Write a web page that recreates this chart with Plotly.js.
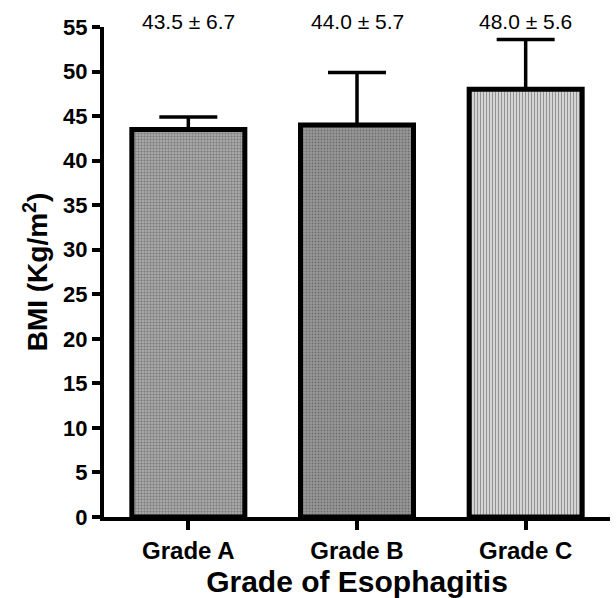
<!DOCTYPE html>
<html><head><meta charset="utf-8">
<script src="https://cdn.plot.ly/plotly-3.0.1.min.js"></script>
<style>body{margin:0;background:#fff}#c{width:616px;height:598px}</style>
</head><body><div id="c"></div>
<script>
const categories = ["Grade A", "Grade B", "Grade C"];
const meanBMI = [43.5, 44.0, 48.0];
const errorUp = [1.4, 5.9, 5.6];
const labels = ["43.5 ± 6.7", "44.0 ± 5.7", "48.0 ± 5.6"];
const yTicks = [0,5,10,15,20,25,30,35,40,45,50,55];

const trace = {
  type: "bar", x: categories, y: meanBMI, width: 0.67,
  marker: {
    color: ["#a6a6a6", "#979797", "#d4d4d4"],
    line: {color: "#000", width: 5},
    pattern: {shape: ["+", ".", "|"], fillmode: "overlay", fgcolor: ["#808080", "#6a6a6a", "#bdbdbd"], size: 3, solidity: 0.3}
  },
  error_y: {type: "data", symmetric: false, array: errorUp, arrayminus: [0,0,0], color: "#000", thickness: 3.5, width: 29},
  hoverinfo: "skip"
};
const font = "Liberation Sans, Arial, sans-serif";
const layout = {
  width: 616, height: 598, showlegend: false,
  margin: {l: 104, r: 6, t: 27, b: 81},
  paper_bgcolor: "#fff", plot_bgcolor: "#fff",
  xaxis: {range: [-0.5, 2.5], showline: true, linewidth: 4, linecolor: "#000", ticks: "outside", ticklen: 9, tickwidth: 4, tickcolor: "#000",
    tickvals: categories, ticktext: categories.map(c => "<b>" + c + "</b>"),
    tickfont: {family: font, size: 24, color: "#000"}, showgrid: false, zeroline: false,
    title: {text: "<b>Grade of Esophagitis</b>", font: {family: font, size: 30, color: "#000"}, standoff: 10}},
  yaxis: {range: [0, 55], tickvals: yTicks, ticktext: yTicks.map(v => "<b>" + v + "</b>"), showline: true, linewidth: 4, linecolor: "#000", ticks: "outside", ticklen: 8, tickwidth: 4, tickcolor: "#000",
    tickfont: {family: font, size: 22, color: "#000"}, showgrid: false, zeroline: false,
    title: {text: "<b>BMI (Kg/m<sup>2</sup>)</b>", font: {family: font, size: 28, color: "#000"}, standoff: 8}},
  annotations: categories.map((c, i) => ({x: c, y: 1, yref: "paper", yshift: 6, text: labels[i], showarrow: false, yanchor: "middle",
    font: {family: font, size: 21, color: "#000"}}))
};
Plotly.newPlot("c", [trace], layout, {displayModeBar: false, staticPlot: true});
</script></body></html>
